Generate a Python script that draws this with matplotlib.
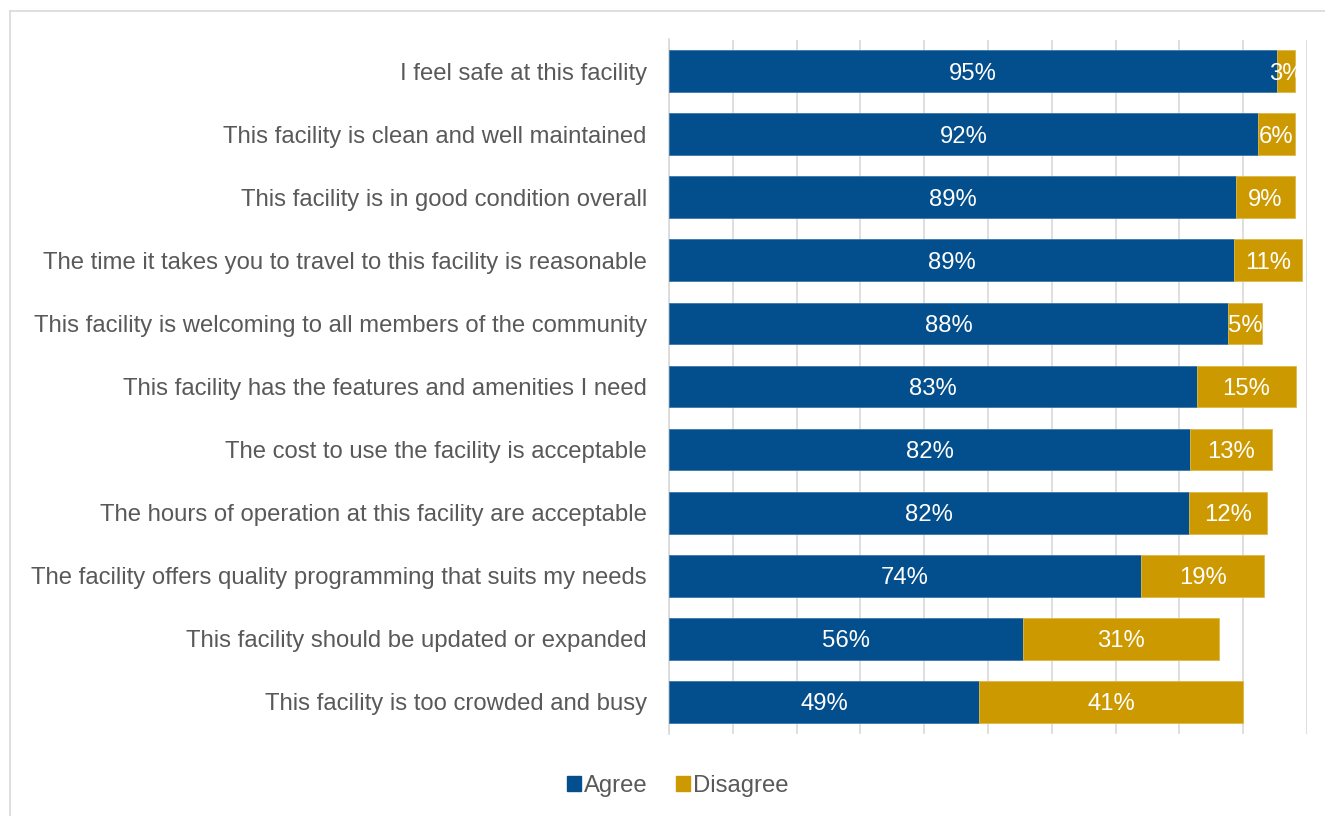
import matplotlib
matplotlib.use("Agg")
import matplotlib.pyplot as plt
from matplotlib.lines import Line2D
from matplotlib.patches import Patch
import numpy as np

plt.rcParams['font.family'] = ['Liberation Sans', 'DejaVu Sans']

categories = [
    "I feel safe at this facility",
    "This facility is clean and well maintained",
    "This facility is in good condition overall",
    "The time it takes you to travel to this facility is reasonable",
    "This facility is welcoming to all members of the community",
    "This facility has the features and amenities I need",
    "The cost to use the facility is acceptable",
    "The hours of operation at this facility are acceptable",
    "The facility offers quality programming that suits my needs",
    "This facility should be updated or expanded",
    "This facility is too crowded and busy",
]
agree = [95.3, 92.3, 88.9, 88.6, 87.6, 82.8, 81.7, 81.5, 74.0, 55.5, 48.6]
disagree = [2.8, 5.8, 9.2, 10.6, 5.4, 15.4, 12.8, 12.2, 19.3, 30.7, 41.4]
series_names = ["Agree", "Disagree"]

BLUE = "#034E8C"
GOLD = "#CC9900"
TEXT = "#595959"
GRID = "#D9D9D9"
FS = 17.2

W, H = 1325, 816
fig = plt.figure(figsize=(W / 100, H / 100), dpi=100)
fig.patch.set_facecolor("white")

# chart frame
fig.add_artist(Line2D([9.5 / W, 9.5 / W], [0, 1 - 10.5 / H], transform=fig.transFigure,
                      color=GRID, lw=1.2))
fig.add_artist(Line2D([9.5 / W, 1], [1 - 10.5 / H, 1 - 10.5 / H], transform=fig.transFigure,
                      color=GRID, lw=1.2))

ax = fig.add_axes([669 / W, 1 - 733.5 / H, (1307 - 669) / W, (733.5 - 39.5) / H])
y = np.arange(len(categories))
ax.barh(y, agree, height=0.66, color=BLUE, edgecolor="#3F78A8", linewidth=0.6, zorder=3)
ax.barh(y, disagree, left=agree, height=0.66, color=GOLD, edgecolor="#DDB84A", linewidth=0.6, zorder=3)

for i in range(len(categories)):
    ax.text(agree[i] / 2, y[i], f"{round(agree[i])}%", ha="center", va="center_baseline",
            color="white", fontsize=FS, zorder=4)
    ax.text(agree[i] + disagree[i] / 2, y[i], f"{round(disagree[i])}%", ha="center",
            va="center_baseline", color="white", fontsize=FS, zorder=4)

ax.set_xlim(0, 100)
ax.set_ylim(len(categories) - 0.5, -0.5)
ax.set_xticks(np.arange(0, 101, 10))
ax.set_xticklabels([])
ax.tick_params(axis="x", length=0)
ax.grid(axis="x", color=GRID, lw=1.2, zorder=0)
ax.set_yticks(y)
ax.set_yticklabels(categories, fontsize=FS, color=TEXT)
ax.tick_params(axis="y", length=0, pad=16)
for s in ["top", "right", "bottom"]:
    ax.spines[s].set_visible(False)
ax.spines["left"].set_color(GRID)
ax.spines["left"].set_linewidth(1.2)

handles = [Patch(facecolor=BLUE, edgecolor=BLUE), Patch(facecolor=GOLD, edgecolor=GOLD)]
leg = fig.legend(handles, series_names, loc="center", bbox_to_anchor=(678 / W, 1 - 786 / H),
                 ncol=2, frameon=False, fontsize=FS, handlelength=0.55, handleheight=0.55,
                 handletextpad=0.15, columnspacing=1.2)
for t in leg.get_texts():
    t.set_color(TEXT)

fig.savefig("out.png", dpi=100, facecolor="white")
